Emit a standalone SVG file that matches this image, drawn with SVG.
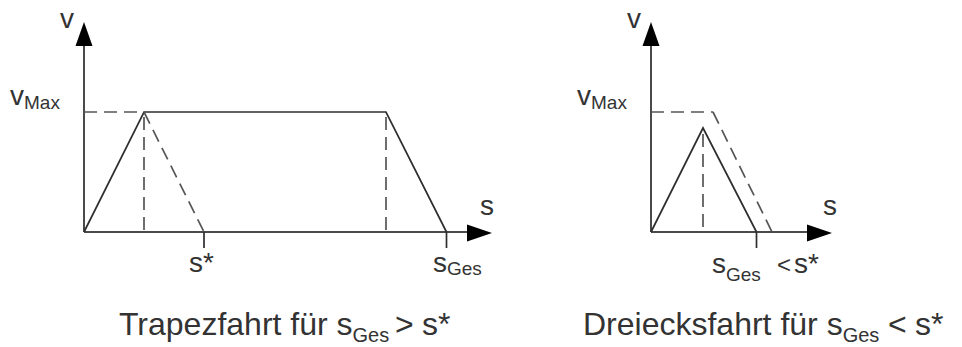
<svg xmlns="http://www.w3.org/2000/svg" width="962" height="347" viewBox="0 0 962 347">
<style>
.axis{stroke:#4a4a4a;stroke-width:2;fill:none}
.head{fill:#000}
.solid{stroke:#2e2e2e;stroke-width:1.7;fill:none}
.dash{stroke:#555;stroke-width:1.7;fill:none;stroke-dasharray:13 7}
.tick{stroke:#2e2e2e;stroke-width:1.7}
text{font-family:"Liberation Sans",Arial,sans-serif;fill:#333}
.lbl{font-size:28px}
.sub{font-size:19px}
.cap{font-size:32px}
.capsub{font-size:20px}
.lt{font-size:24px}
</style>
<rect width="962" height="347" fill="#fff"/>
<g id="chart-trapez">
  <g id="axes-left">
    <line class="axis" x1="84" y1="44" x2="84" y2="232"/>
    <polygon class="head" points="84,22 75.5,46 92.5,46"/>
    <line class="axis" x1="84" y1="232" x2="468" y2="232"/>
    <polygon class="head" points="492,233 467,224.5 467,241.5"/>
  </g>
  <g id="profile-left">
    <polyline class="solid" points="84,232 144,112 386,112 446.5,232"/>
    <line class="dash" x1="84" y1="112" x2="144" y2="112"/>
    <line class="dash" x1="144" y1="117" x2="144" y2="232"/>
    <line class="dash" x1="386" y1="117" x2="386" y2="232"/>
    <line class="dash" x1="144" y1="112" x2="204" y2="232"/>
    <line class="tick" x1="204" y1="232" x2="204" y2="248"/>
    <line class="tick" x1="446.5" y1="232" x2="446.5" y2="248"/>
  </g>
  <g id="labels-left">
    <text class="lbl" x="60" y="28">v</text>
    <text class="lbl" x="10" y="105">v<tspan class="sub" dy="4">Max</tspan></text>
    <text class="lbl" x="480" y="215">s</text>
    <text class="lbl" x="189" y="272">s*</text>
    <text class="lbl" x="433" y="272">s<tspan class="sub" dy="3">Ges</tspan></text>
    <text class="cap" x="119" y="335">Trapezfahrt für s<tspan class="capsub" dy="7">Ges</tspan><tspan dy="-7" x="395">&gt;</tspan><tspan x="422">s*</tspan></text>
  </g>
</g>
<g id="chart-dreieck">
  <g id="axes-right">
    <line class="axis" x1="651" y1="44" x2="651" y2="232"/>
    <polygon class="head" points="651,22 642.5,46 659.5,46"/>
    <line class="axis" x1="651" y1="232" x2="808" y2="232"/>
    <polygon class="head" points="832,233 807,224.5 807,241.5"/>
  </g>
  <g id="profile-right">
    <polyline class="solid" points="651,232 703,128 756.5,232"/>
    <line class="dash" x1="651" y1="112" x2="713" y2="112"/>
    <line class="dash" x1="713" y1="112" x2="772" y2="232"/>
    <line class="dash" x1="703" y1="134" x2="703" y2="232"/>
    <line class="tick" x1="756.5" y1="232" x2="756.5" y2="248"/>
  </g>
  <g id="labels-right">
    <text class="lbl" x="627" y="28">v</text>
    <text class="lbl" x="577" y="105">v<tspan class="sub" dy="4">Max</tspan></text>
    <text class="lbl" x="823" y="215">s</text>
    <text class="lbl" x="712" y="273">s<tspan class="sub" dy="8">Ges</tspan><tspan class="lt" dy="-8" x="777">&lt;</tspan><tspan x="794">s*</tspan></text>
    <text class="cap" x="583" y="335">Dreiecksfahrt für s<tspan class="capsub" dy="7">Ges</tspan><tspan dy="-7" x="888">&lt;</tspan><tspan x="915">s*</tspan></text>
  </g>
</g>
</svg>
